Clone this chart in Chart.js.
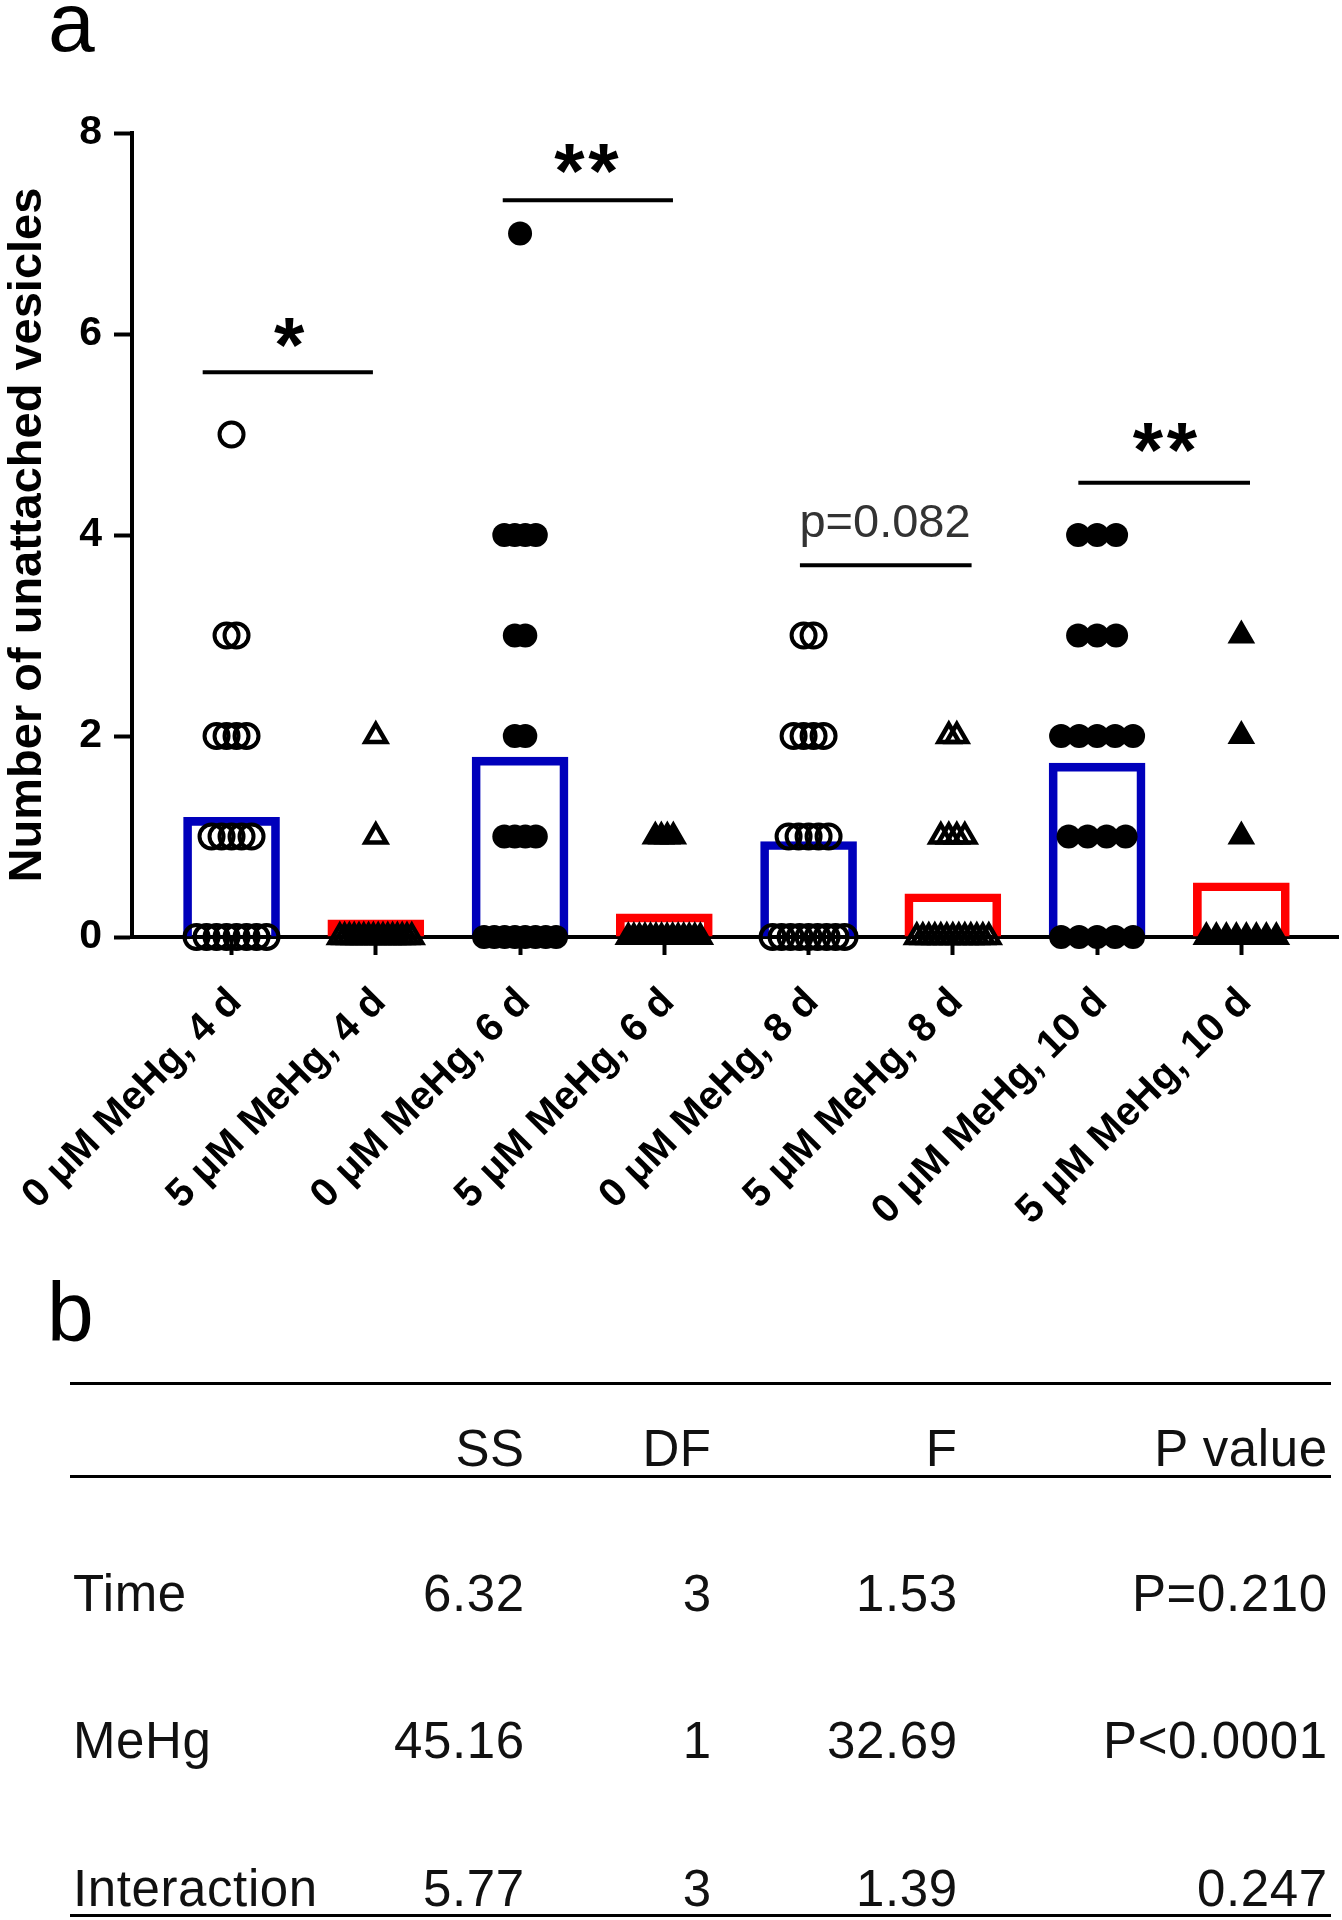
<!DOCTYPE html>
<html>
<head>
<meta charset="utf-8">
<script src="https://cdn.jsdelivr.net/npm/chart.js@4/dist/chart.umd.min.js"></script>
<style>
  html, body { margin: 0; padding: 0; background: #fff; }
  body { width: 1342px; height: 1920px; position: relative; font-family: "Liberation Sans", Arial, sans-serif; color: #000; overflow: hidden; }
  #wrap { position: absolute; left: 0; top: 0; width: 1342px; height: 1250px; }
  .panel { position: absolute; font-size: 84px; line-height: 1; }
  .rule { position: absolute; left: 70px; width: 1261px; height: 3px; background: #000; }
  .cell { position: absolute; line-height: 1; white-space: nowrap; color: #111; letter-spacing: 0.6px; }
</style>
</head>
<body>
<div class="panel" style="left:48px; top:-20px;">a</div>
<div id="wrap"><canvas id="c" width="1342" height="1250" style="width:1342px;height:1250px;"></canvas></div>
<div class="panel" style="left:47px; top:1270px;">b</div>
<div id="tbl"></div>
<script>
// ---------------- data ----------------
const categories = ['0 μM MeHg, 4 d', '5 μM MeHg, 4 d', '0 μM MeHg, 6 d', '5 μM MeHg, 6 d',
                    '0 μM MeHg, 8 d', '5 μM MeHg, 8 d', '0 μM MeHg, 10 d', '5 μM MeHg, 10 d'];
const means = [1.19, 0.17, 1.79, 0.23, 0.95, 0.43, 1.73, 0.54];

const g0 = [0,0,0,0,0,0,0,0, 1,1,1,1,1, 2,2,2,2, 3,3, 5];
const g1 = [0,0,0,0,0,0,0,0,0,0,0,0,0,0,0,0, 1, 2];
const g2 = [0,0,0,0,0,0,0,0, 1,1,1,1, 2,2, 3,3, 4,4,4,4, 7];
const g3 = [0,0,0,0,0,0,0,0,0,0,0,0,0,0, 1,1,1,1];
const g4 = [0,0,0,0,0,0,0,0,0, 1,1,1,1,1, 2,2,2,2, 3,3];
const g5 = [0,0,0,0,0,0,0,0,0,0,0,0,0, 1,1,1,1, 2,2];
const g6 = [0,0,0,0,0, 1,1,1,1, 2,2,2,2,2, 3,3,3, 4,4,4];
const g7 = [0,0,0,0,0,0,0,0, 1, 2, 3];
const groups = [g0, g1, g2, g3, g4, g5, g6, g7];

const yTicks = [0, 2, 4, 6, 8];

// significance annotations (category units / value units)
const bracketStart = [-0.20, 1.88, 3.94, 5.87];
const bracketEnd   = [0.98, 3.06, 5.13, 7.06];
const bracketY     = [5.62, 7.33, 3.70, 4.52];
const sigText      = ['*', '**', 'p=0.082', '**'];
const sigX         = [0.40, 2.46, 4.53, 6.47];
const sigY         = [6.05, 7.78, 4.15, 5.00];

// ANOVA table
const tableHeader = ['', 'SS', 'DF', 'F', 'P value'];
const tableRows = [
  ['Time', '6.32', '3', '1.53', 'P=0.210'],
  ['MeHg', '45.16', '1', '32.69', 'P<0.0001'],
  ['Interaction', '5.77', '3', '1.39', '0.247']
];

// ---------------- styles ----------------
const FONT = '"Liberation Sans", Arial, sans-serif';
const barColors = ['#0000bb', '#ff0000', '#0000bb', '#ff0000', '#0000bb', '#ff0000', '#0000bb', '#ff0000'];
const markerStyle = [
  {style: 'circle',   fill: 'rgba(0,0,0,0)', bw: 4,   r: 12},
  {style: 'triangle', fill: 'rgba(0,0,0,0)', bw: 4.5, r: 12},
  {style: 'circle',   fill: '#000',          bw: 0,   r: 12},
  {style: 'triangle', fill: '#000',          bw: 3,   r: 13},
  {style: 'circle',   fill: 'rgba(0,0,0,0)', bw: 4,   r: 12},
  {style: 'triangle', fill: 'rgba(0,0,0,0)', bw: 4.5, r: 12},
  {style: 'circle',   fill: '#000',          bw: 0,   r: 12},
  {style: 'triangle', fill: '#000',          bw: 3,   r: 13}
];
const spreadStep = [10, 5, 10.5, 6, 10, 8, 19, 10]; // px between neighbours in a row
const spreadMax = 72;   // px max row width
const unitPx = 144.26;  // px per category

function spreadOffsets(values, step) {
  const counts = {}, seen = {};
  values.forEach(v => { counts[v] = (counts[v] || 0) + 1; });
  return values.map(v => {
    const k = counts[v];
    const j = seen[v] = (seen[v] || 0) + 1;
    const s = k > 1 ? Math.min(step, spreadMax / (k - 1)) : 0;
    return ((j - 1) - (k - 1) / 2) * s / unitPx;
  });
}

const datasets = [{
  type: 'bar',
  data: means.map((m, i) => ({x: i, y: m})),
  backgroundColor: 'rgba(0,0,0,0)',
  borderColor: barColors,
  borderWidth: 8,
  barThickness: 96,
  order: 10
}];
groups.forEach((g, gi) => {
  const offs = spreadOffsets(g, spreadStep[gi]);
  const ms = markerStyle[gi];
  datasets.push({
    type: 'scatter',
    data: g.map((v, k) => ({x: gi + offs[k], y: v})),
    pointStyle: ms.style,
    pointRadius: ms.r,
    pointHoverRadius: ms.r,
    pointBackgroundColor: ms.fill,
    pointBorderColor: '#000',
    pointBorderWidth: ms.bw,
    clip: false,
    order: 1
  });
});

const annotPlugin = {
  id: 'annot',
  afterDatasetsDraw(chart) {
    const {ctx} = chart;
    const x = chart.scales.x, y = chart.scales.y;
    ctx.save();
    ctx.strokeStyle = '#000';
    ctx.lineWidth = 4;
    bracketY.forEach((v, i) => {
      const yy = y.getPixelForValue(v);
      ctx.beginPath();
      ctx.moveTo(x.getPixelForValue(bracketStart[i]), yy);
      ctx.lineTo(x.getPixelForValue(bracketEnd[i]), yy);
      ctx.stroke();
    });
    ctx.textAlign = 'center';
    ctx.textBaseline = 'alphabetic';
    sigText.forEach((t, i) => {
      const cx = x.getPixelForValue(sigX[i]);
      const cy = y.getPixelForValue(sigY[i]);
      if (t.startsWith('p')) {
        const F = 47;
        ctx.font = F + 'px ' + FONT;
        ctx.fillStyle = '#333';
        ctx.fillText(t, cx, cy + 0.36 * F);
      } else {
        const F = 78;
        ctx.font = 'bold ' + F + 'px ' + FONT;
        ctx.fillStyle = '#000';
        if (t.length === 2) {
          ctx.fillText('*', cx - 17, cy + 0.55 * F);
          ctx.fillText('*', cx + 17, cy + 0.55 * F);
        } else {
          ctx.fillText(t, cx, cy + 0.55 * F);
        }
      }
    });
    ctx.restore();
  }
};

Chart.defaults.font.family = FONT;
Chart.defaults.color = '#000';

new Chart(document.getElementById('c'), {
  type: 'bar',
  data: {datasets},
  plugins: [annotPlugin],
  options: {
    responsive: false,
    maintainAspectRatio: false,
    devicePixelRatio: 1,
    animation: false,
    events: [],
    layout: {autoPadding: false, padding: {top: 133, right: 4, left: 0, bottom: 0}},
    plugins: {legend: {display: false}, tooltip: {enabled: false}},
    scales: {
      x: {
        type: 'linear',
        min: -0.69,
        max: 7.67,
        offset: false,
        grid: {display: true, drawOnChartArea: false, drawTicks: true, tickLength: 18, tickWidth: 4, tickColor: '#000', offset: false},
        border: {display: true, color: '#000', width: 4},
        afterBuildTicks(axis) { axis.ticks = categories.map((c, i) => ({value: i})); },
        afterFit(axis) { axis.height = 313; axis.paddingLeft = 0; axis.paddingRight = 0; },
        ticks: {
          autoSkip: false,
          maxRotation: 45,
          minRotation: 45,
          padding: 24,
          labelOffset: 4,
          color: '#000',
          font: {size: 40, weight: 'bold', family: FONT},
          callback: (v) => categories[v]
        }
      },
      y: {
        type: 'linear',
        min: 0,
        max: 8,
        grid: {display: true, drawOnChartArea: false, drawTicks: true, tickLength: 18, tickWidth: 4, tickColor: '#000'},
        border: {display: true, color: '#000', width: 4},
        afterBuildTicks(axis) { axis.ticks = yTicks.map(v => ({value: v})); },
        afterFit(axis) { axis.width = 132; axis.paddingTop = 0; axis.paddingBottom = 0; },
        ticks: {
          padding: 12,
          color: '#000',
          font: {size: 41, weight: 'bold', family: FONT}
        },
        title: {
          display: true,
          text: 'Number of unattached vesicles',
          color: '#000',
          font: {size: 47, weight: 'bold', family: FONT},
          padding: {top: 0, bottom: 0}
        }
      }
    }
  }
});

// ---------------- table ----------------
const tbl = document.getElementById('tbl');
const colRight = [null, 524, 711, 957, 1327];
const colLeft = 73;
function addCell(text, rightEdge, baseline, size) {
  const d = document.createElement('div');
  d.className = 'cell';
  d.style.fontSize = size + 'px';
  d.style.top = (baseline - 0.8465 * size) + 'px';
  d.textContent = text;
  if (rightEdge === null) {
    d.style.left = colLeft + 'px';
  } else {
    d.style.right = (1342 - rightEdge - 0.6) + 'px';
    d.style.textAlign = 'right';
  }
  tbl.appendChild(d);
}
[1382, 1475, 1914].forEach(t => {
  const r = document.createElement('div');
  r.className = 'rule';
  r.style.top = t + 'px';
  tbl.appendChild(r);
});
tableHeader.forEach((h, i) => { if (h) addCell(h, colRight[i], 1466, 51); });
const rowBase = [1611, 1758, 1906];
tableRows.forEach((row, ri) => {
  row.forEach((c, i) => addCell(c, colRight[i], rowBase[ri], 51));
});
</script>
</body>
</html>
